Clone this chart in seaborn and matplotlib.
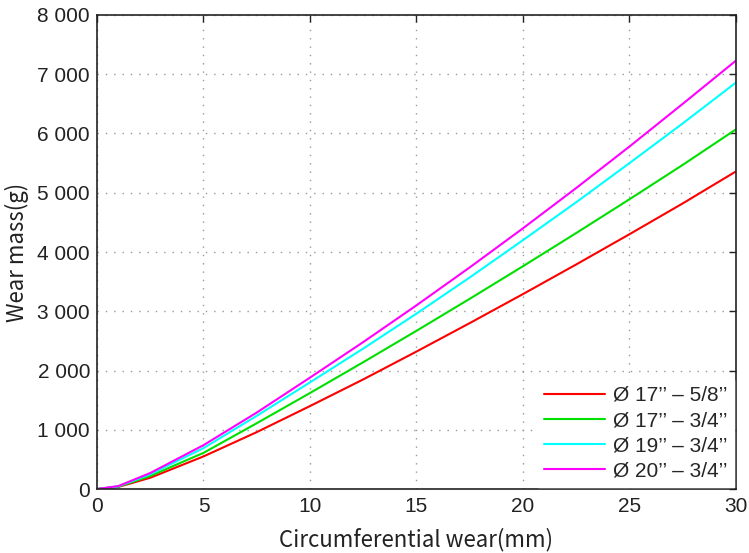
import matplotlib
matplotlib.use("Agg")
import matplotlib.pyplot as plt
import matplotlib.ticker as ticker
import seaborn as sns
import pandas as pd

wear_mm = [0, 1, 2.5, 5, 7.5, 10, 12.5, 15, 17.5, 20, 22.5, 25, 27.5, 30]
mass_17_58 = [0, 35, 190, 550, 960, 1400, 1850, 2320, 2800, 3290, 3790, 4300, 4820, 5360]
mass_17_34 = [0, 40, 220, 610, 1110, 1620, 2140, 2670, 3210, 3760, 4320, 4890, 5470, 6070]
mass_19_34 = [0, 45, 250, 690, 1235, 1800, 2370, 2960, 3570, 4200, 4840, 5500, 6170, 6860]
mass_20_34 = [0, 50, 270, 740, 1290, 1880, 2480, 3100, 3740, 4400, 5080, 5780, 6500, 7230]
labels = ["Ø 17\u2019\u2019 \u2013 5/8\u2019\u2019", "Ø 17\u2019\u2019 \u2013 3/4\u2019\u2019",
          "Ø 19\u2019\u2019 \u2013 3/4\u2019\u2019", "Ø 20\u2019\u2019 \u2013 3/4\u2019\u2019"]
colors = ["#ff0000", "#00e000", "#00ffff", "#ff00ff"]

frames = []
for lab, vals in zip(labels, [mass_17_58, mass_17_34, mass_19_34, mass_20_34]):
    frames.append(pd.DataFrame({"wear": wear_mm, "mass": vals, "wheel": lab}))
df = pd.concat(frames, ignore_index=True)

sns.set_style("white")
plt.rcParams["font.family"] = ["Liberation Sans", "DejaVu Sans"]

fig = plt.figure(figsize=(7.49, 5.53), dpi=100)
ax = fig.add_axes([0.1295, 0.1157, 0.8531, 0.8572])

sns.lineplot(data=df, x="wear", y="mass", hue="wheel", palette=colors,
             linewidth=1.5, ax=ax)

ax.set_xlim(0, 30)
ax.set_ylim(0, 8000)
ax.xaxis.set_major_locator(ticker.MultipleLocator(5))
ax.yaxis.set_major_locator(ticker.MultipleLocator(1000))
ax.yaxis.set_major_formatter(ticker.FuncFormatter(
    lambda v, p: "0" if v == 0 else "{:d} {:03d}".format(int(v) // 1000, int(v) % 1000)))
ax.tick_params(axis="both", direction="in", labelsize=15, length=5, width=1,
               top=True, right=True, colors="#222222", labelcolor="#222222")
ax.tick_params(axis="x", pad=6)
ax.tick_params(axis="y", pad=5)
ax.grid(True, linestyle=(0, (1, 5)), color="#999999", linewidth=1)
for s in ax.spines.values():
    s.set_color("#222222")
    s.set_linewidth(1.2)

ax.set_xlabel("Circumferential wear(mm)", fontsize=16,
              family=["Noto Sans CJK KR", "DejaVu Sans"], color="#222222", labelpad=8)
ax.set_ylabel("Wear mass(g)", fontsize=16,
              family=["Noto Sans CJK KR", "DejaVu Sans"], color="#222222", labelpad=6)

leg = ax.legend(loc="lower right", fontsize=15, frameon=True, handlelength=2.9,
                handletextpad=0.4, borderaxespad=0.1, borderpad=0.3,
                labelspacing=0.3, fancybox=False)
leg.get_frame().set_edgecolor("white")
leg.get_frame().set_alpha(1)

plt.savefig("out.png", dpi=100)
